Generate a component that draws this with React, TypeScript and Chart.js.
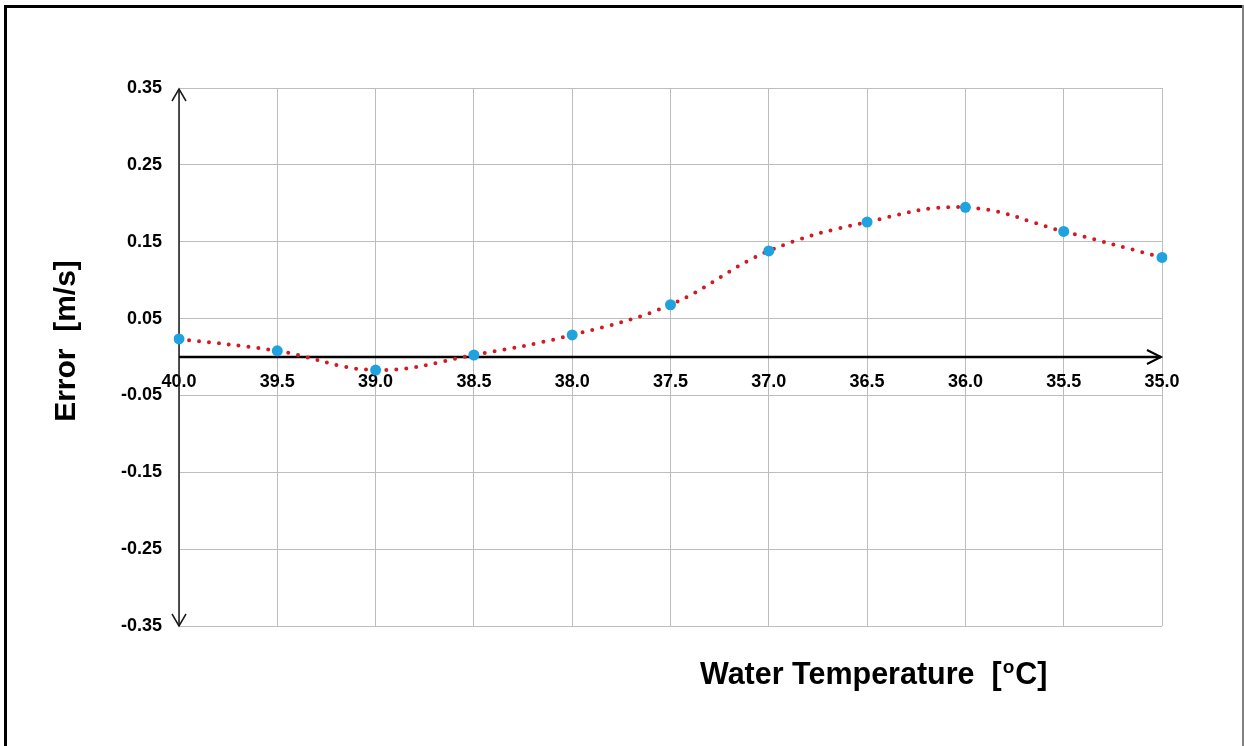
import React, { useEffect, useRef } from "react";
import { Chart, registerables } from "chart.js";

Chart.register(...registerables);

const categories = ["40.0", "39.5", "39.0", "38.5", "38.0", "37.5", "37.0", "36.5", "36.0", "35.5", "35.0"];
const errorValues = [0.0235, 0.008, -0.017, 0.0026, 0.0287, 0.068, 0.138, 0.1756, 0.1947, 0.1634, 0.1295];
const yTickValues = [0.35, 0.25, 0.15, 0.05, -0.05, -0.15, -0.25, -0.35];
const yTitle = "Error  [m/s]";
const xTitleMain = "Water Temperature  [";
const xTitleSup = "o";
const xTitleEnd = "C]";

const FONT = "'Liberation Sans', Arial, sans-serif";

const decorPlugin = {
  id: "decor",
  beforeDatasetsDraw(chart: any) {
    const ctx = chart.ctx;
    const area = chart.chartArea;
    const yScale = chart.scales.y;
    const x0 = area.left;
    const zeroY = yScale.getPixelForValue(0);
    ctx.save();
    ctx.strokeStyle = "#1a1a1a";
    ctx.lineWidth = 1.5;
    ctx.beginPath();
    ctx.moveTo(x0, area.top + 1);
    ctx.lineTo(x0, area.bottom);
    ctx.stroke();
    ctx.beginPath();
    ctx.moveTo(x0 - 7, area.top + 13);
    ctx.lineTo(x0, area.top + 1);
    ctx.lineTo(x0 + 7, area.top + 13);
    ctx.moveTo(x0 - 7, area.bottom - 12);
    ctx.lineTo(x0, area.bottom);
    ctx.lineTo(x0 + 7, area.bottom - 12);
    ctx.stroke();
    ctx.strokeStyle = "#000";
    ctx.lineWidth = 2.5;
    ctx.beginPath();
    ctx.moveTo(x0, zeroY);
    ctx.lineTo(area.right - 1, zeroY);
    ctx.stroke();
    ctx.lineWidth = 2;
    ctx.beginPath();
    ctx.moveTo(area.right - 15, zeroY - 7);
    ctx.lineTo(area.right - 1, zeroY);
    ctx.lineTo(area.right - 15, zeroY + 7);
    ctx.stroke();
    ctx.restore();
  },
  afterDraw(chart: any) {
    const ctx = chart.ctx;
    ctx.save();
    ctx.fillStyle = "#000";
    ctx.fillRect(4, 5, 3, 741);
    ctx.fillRect(4, 5, 1240, 3);
    ctx.fillStyle = "#808080";
    ctx.fillRect(1242, 5, 2, 741);
    ctx.fillStyle = "#000";
    ctx.font = `bold 30px ${FONT}`;
    ctx.translate(67, 341);
    ctx.rotate(-Math.PI / 2);
    ctx.textAlign = "center";
    ctx.textBaseline = "middle";
    ctx.fillText(yTitle, 0, 0);
    ctx.restore();
    ctx.save();
    ctx.fillStyle = "#000";
    ctx.textBaseline = "alphabetic";
    ctx.textAlign = "left";
    let x = 700;
    const base = 684;
    ctx.font = `bold 30.5px ${FONT}`;
    ctx.fillText(xTitleMain, x, base);
    x += ctx.measureText(xTitleMain).width;
    ctx.font = `bold 19px ${FONT}`;
    ctx.fillText(xTitleSup, x + 1, base - 11);
    x += ctx.measureText(xTitleSup).width + 2;
    ctx.font = `bold 30.5px ${FONT}`;
    ctx.fillText(xTitleEnd, x, base);
    ctx.restore();
  },
};

export default function App() {
  const canvasRef = useRef<HTMLCanvasElement | null>(null);

  useEffect(() => {
    if (!canvasRef.current) return;
    const chart = new Chart(canvasRef.current, {
      type: "line",
      data: {
        labels: categories,
        datasets: [
          {
            data: errorValues,
            borderColor: "#d11a22",
            borderWidth: 4,
            borderDash: [0, 10],
            borderCapStyle: "round",
            tension: 0.4,
            pointRadius: 5.5,
            pointBackgroundColor: "#1fa2de",
            pointBorderColor: "#1fa2de",
            pointBorderWidth: 0,
            fill: false,
          },
        ],
      },
      options: {
        animation: false,
        responsive: false,
        maintainAspectRatio: false,
        layout: { padding: { left: 0, right: 82, top: 88, bottom: 120 } },
        plugins: {
          legend: { display: false },
          tooltip: { enabled: false },
        },
        scales: {
          x: {
            type: "category",
            offset: false,
            position: { y: 0 } as any,
            grid: { color: "#bdbdbd", lineWidth: 1, drawTicks: false },
            border: { display: false },
            ticks: {
              color: "#000",
              font: { family: FONT, size: 18, weight: "bold" },
              padding: 14,
              maxRotation: 0,
              autoSkip: false,
            },
          },
          y: {
            min: -0.35,
            max: 0.35,
            afterBuildTicks: (scale: any) => {
              scale.ticks = yTickValues.map((v) => ({ value: v }));
            },
            afterFit: (scale: any) => {
              scale.width = 179;
            },
            grid: { color: "#bdbdbd", lineWidth: 1, drawTicks: false },
            border: { display: false },
            ticks: {
              color: "#000",
              font: { family: FONT, size: 18, weight: "bold" },
              padding: 17,
              callback: (v: any) => Number(v).toFixed(2),
            },
          },
        },
      },
      plugins: [decorPlugin],
    });
    return () => chart.destroy();
  }, []);

  return (
    <div style={{ position: "absolute", left: 0, top: 0, width: 1244, height: 746, background: "#fff" }}>
      <canvas ref={canvasRef} width={1244} height={746} style={{ width: 1244, height: 746, display: "block" }} />
    </div>
  );
}
